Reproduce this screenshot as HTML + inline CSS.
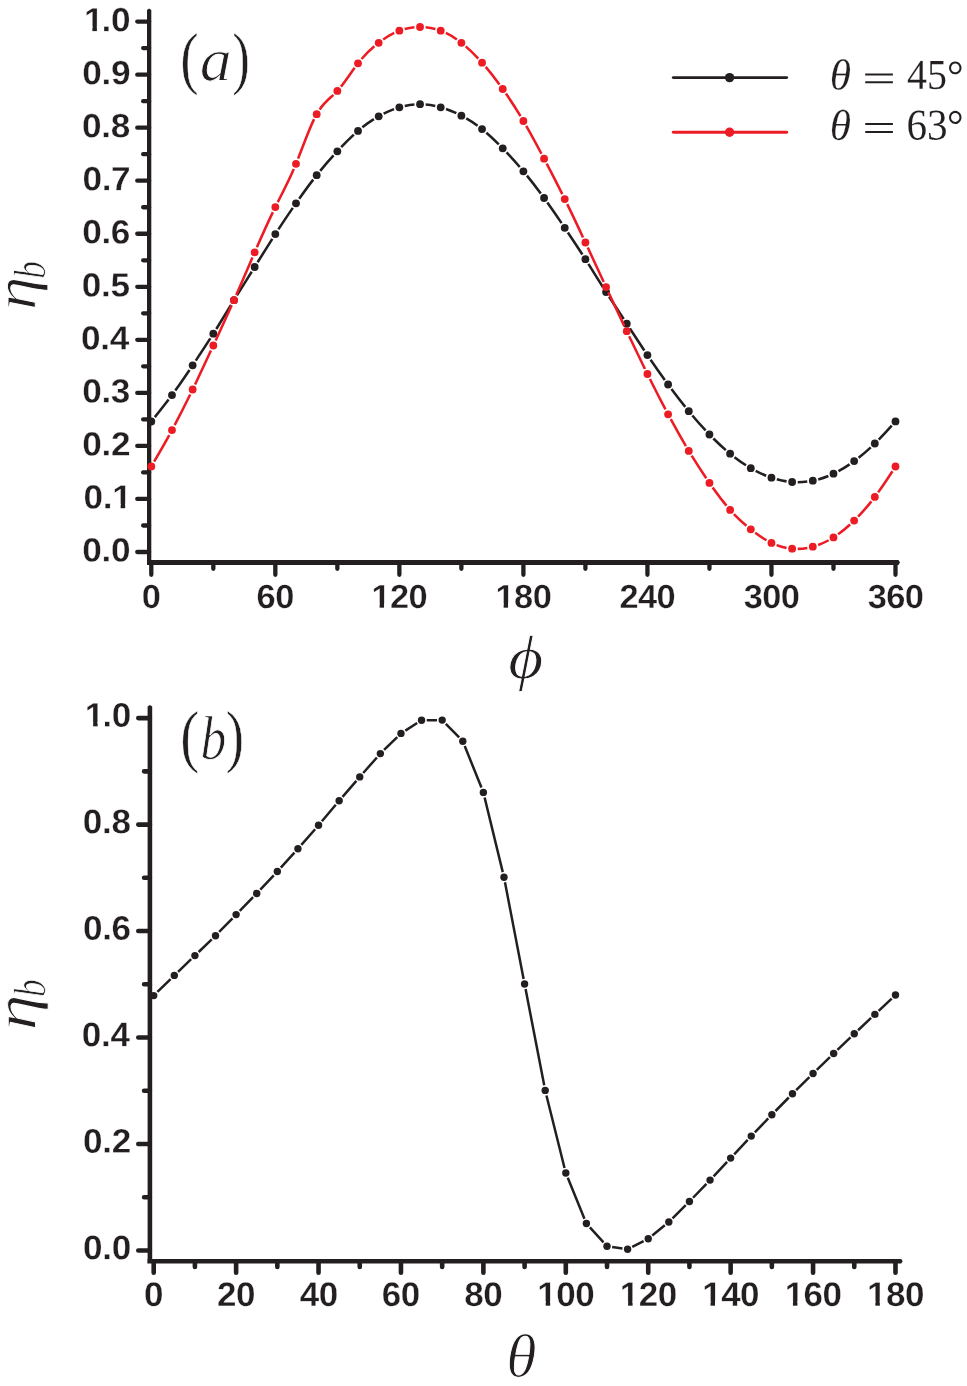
<!DOCTYPE html>
<html lang="en"><head><meta charset="utf-8"><title>Figure</title>
<style>html,body{margin:0;padding:0;background:#fff}svg{display:block}.tk{font-family:"Liberation Sans",sans-serif;font-weight:bold;stroke:#fff;stroke-width:0.3px;fill:#231f20}.mi{font-family:"Liberation Serif",serif;font-style:italic;fill:#231f20}.mr{font-family:"Liberation Serif",serif;fill:#231f20}</style></head><body>
<svg width="967" height="1386" viewBox="0 0 967 1386">
<rect width="967" height="1386" fill="#fff"/>
<g stroke="#231f20" fill="none" stroke-linecap="butt">
<path d="M147.00 565.00V9.90L149.15 8.40L151.30 9.90V562.50Z" fill="#231f20" stroke="none"/>
<path d="M147.00 560.00H898.50L900.00 562.50L898.50 565.00H147.00Z" fill="#231f20" stroke="none"/>
<path d="M151.30 562.5v12.25M213.32 562.5v6.35M275.33 562.5v12.25M337.35 562.5v6.35M399.36 562.5v12.25M461.38 562.5v6.35M523.40 562.5v12.25M585.41 562.5v6.35M647.43 562.5v12.25M709.44 562.5v6.35M771.46 562.5v12.25M833.48 562.5v6.35M895.49 562.5v12.25M149.15 552.00h-11.90M149.15 525.48h-6.00M149.15 498.96h-11.90M149.15 472.44h-6.00M149.15 445.92h-11.90M149.15 419.40h-6.00M149.15 392.88h-11.90M149.15 366.36h-6.00M149.15 339.84h-11.90M149.15 313.32h-6.00M149.15 286.80h-11.90M149.15 260.28h-6.00M149.15 233.76h-11.90M149.15 207.24h-6.00M149.15 180.72h-11.90M149.15 154.20h-6.00M149.15 127.68h-11.90M149.15 101.16h-6.00M149.15 74.64h-11.90M149.15 48.12h-6.00M149.15 21.60h-11.90" stroke-width="4.3" stroke-linecap="round"/>
</g>
<text transform="translate(141.78 608.10) rotate(0.03) scale(1.025 1)" letter-spacing="-0.5" font-size="33.5" class="tk">0</text>
<text transform="translate(256.57 608.10) rotate(0.03) scale(1.025 1)" letter-spacing="-0.5" font-size="33.5" class="tk">60</text>
<text transform="translate(371.45 608.10) rotate(0.03) scale(1.025 1)" letter-spacing="-0.5" font-size="33.5" class="tk">120</text>
<path d="M372.12 603.38H379.62v6.02H372.12ZM384.03 603.38H391.10v6.02H384.03Z" fill="#fff"/>
<text transform="translate(495.49 608.10) rotate(0.03) scale(1.025 1)" letter-spacing="-0.5" font-size="33.5" class="tk">180</text>
<path d="M496.15 603.38H503.65v6.02H496.15ZM508.06 603.38H515.13v6.02H508.06Z" fill="#fff"/>
<text transform="translate(619.40 608.10) rotate(0.03) scale(1.025 1)" letter-spacing="-0.5" font-size="33.5" class="tk">240</text>
<text transform="translate(743.64 608.10) rotate(0.03) scale(1.025 1)" letter-spacing="-0.5" font-size="33.5" class="tk">300</text>
<text transform="translate(867.67 608.10) rotate(0.03) scale(1.025 1)" letter-spacing="-0.5" font-size="33.5" class="tk">360</text>
<text transform="translate(82.32 561.60) rotate(0.03) scale(1.05 1)" letter-spacing="-0.3" font-size="33.5" class="tk">0.0</text>
<text transform="translate(83.56 508.56) rotate(0.03) scale(1.05 1)" letter-spacing="-0.3" font-size="33.5" class="tk">0.1</text>
<path d="M112.98 503.84H120.63v6.02H112.98ZM125.15 503.84H132.35v6.02H125.15Z" fill="#fff"/>
<text transform="translate(82.29 455.52) rotate(0.03) scale(1.05 1)" letter-spacing="-0.3" font-size="33.5" class="tk">0.2</text>
<text transform="translate(82.15 402.48) rotate(0.03) scale(1.05 1)" letter-spacing="-0.3" font-size="33.5" class="tk">0.3</text>
<text transform="translate(81.07 349.44) rotate(0.03) scale(1.05 1)" letter-spacing="-0.3" font-size="33.5" class="tk">0.4</text>
<text transform="translate(81.86 296.40) rotate(0.03) scale(1.05 1)" letter-spacing="-0.3" font-size="33.5" class="tk">0.5</text>
<text transform="translate(82.15 243.36) rotate(0.03) scale(1.05 1)" letter-spacing="-0.3" font-size="33.5" class="tk">0.6</text>
<text transform="translate(82.43 190.32) rotate(0.03) scale(1.05 1)" letter-spacing="-0.3" font-size="33.5" class="tk">0.7</text>
<text transform="translate(81.96 137.28) rotate(0.03) scale(1.05 1)" letter-spacing="-0.3" font-size="33.5" class="tk">0.8</text>
<text transform="translate(82.19 84.24) rotate(0.03) scale(1.05 1)" letter-spacing="-0.3" font-size="33.5" class="tk">0.9</text>
<text transform="translate(82.32 31.20) rotate(0.03) scale(1.05 1)" letter-spacing="-0.3" font-size="33.5" dx="1.62 -1.62" class="tk">1.0</text>
<path d="M84.74 26.48H92.38v6.02H84.74ZM96.91 26.48H104.11v6.02H96.91Z" fill="#fff"/>
<path d="M154.82 417.14C159.42 411.43 164.02 405.66 168.62 399.59M175.27 390.57C180.02 383.96 184.77 377.01 189.52 369.95M195.76 360.64C200.61 353.37 205.46 346.01 210.31 338.43M216.29 328.96C221.21 321.08 226.14 312.99 231.06 304.97M236.93 295.44C241.85 287.49 246.77 279.63 251.70 271.75M257.62 262.25C262.52 254.38 267.41 246.50 272.31 238.82M278.38 229.40C283.19 222.03 288.00 214.88 292.81 207.90M299.22 198.71C303.89 192.10 308.56 185.67 313.23 179.61M320.20 170.84C324.65 165.42 329.10 160.33 333.56 155.42M341.18 147.21C345.40 142.77 349.62 138.51 353.84 134.62M362.34 127.34C366.19 124.29 370.04 121.59 373.88 119.17M383.63 113.65C387.10 111.89 390.58 110.36 394.05 109.08M404.78 105.89C408.00 105.18 411.22 104.68 414.44 104.42M425.63 104.45C428.85 104.73 432.06 105.23 435.28 105.93M446.04 109.00C449.48 110.20 452.92 111.61 456.36 113.22M466.29 118.39C470.06 120.56 473.83 122.98 477.59 125.71M486.37 132.67C490.51 136.23 494.65 140.16 498.80 144.31M506.59 152.35C510.99 157.01 515.39 161.89 519.78 167.02M526.95 175.63C531.55 181.30 536.16 187.26 540.76 193.48M547.34 202.55C552.09 209.22 556.85 216.14 561.60 223.16M567.87 232.45C572.71 239.66 577.55 246.97 582.39 254.48M588.41 263.93C593.30 271.69 598.19 279.62 603.08 287.37M609.11 296.81C613.97 304.33 618.82 311.66 623.68 319.02M629.83 328.38C634.65 335.77 639.48 343.19 644.31 350.45M650.57 359.74C655.31 366.69 660.06 373.43 664.80 379.98M671.43 389.00C676.04 395.17 680.64 401.13 685.24 406.86M692.36 415.50C696.77 420.74 701.18 425.72 705.59 430.44M713.38 438.49C717.53 442.62 721.68 446.50 725.83 450.09M734.50 457.18C738.34 460.13 742.17 462.84 746.01 465.28M755.69 470.91C759.19 472.75 762.70 474.37 766.20 475.77M776.82 479.33C780.07 480.21 783.32 480.90 786.57 481.38M797.73 482.21C800.91 482.21 804.09 482.01 807.28 481.60M818.25 479.41C821.62 478.49 824.99 477.35 828.36 475.97M838.46 471.15C842.17 469.13 845.87 466.85 849.57 464.33M858.62 457.72C862.67 454.56 866.72 451.12 870.77 447.36M878.77 439.53C883.10 435.10 887.42 430.36 891.75 425.57" fill="none" stroke="#231f20" stroke-width="2.55"/>
<g fill="#231f20"><circle cx="151.30" cy="421.50" r="3.9"/><circle cx="171.97" cy="395.10" r="3.9"/><circle cx="192.64" cy="365.30" r="3.9"/><circle cx="213.32" cy="333.70" r="3.9"/><circle cx="233.99" cy="300.20" r="3.9"/><circle cx="254.66" cy="267.00" r="3.9"/><circle cx="275.33" cy="234.10" r="3.9"/><circle cx="296.00" cy="203.30" r="3.9"/><circle cx="316.68" cy="175.20" r="3.9"/><circle cx="337.35" cy="151.30" r="3.9"/><circle cx="358.02" cy="130.90" r="3.9"/><circle cx="378.69" cy="116.30" r="3.9"/><circle cx="399.36" cy="107.30" r="3.9"/><circle cx="420.04" cy="104.20" r="3.9"/><circle cx="440.71" cy="107.30" r="3.9"/><circle cx="461.38" cy="115.70" r="3.9"/><circle cx="482.05" cy="129.10" r="3.9"/><circle cx="502.72" cy="148.30" r="3.9"/><circle cx="523.40" cy="171.30" r="3.9"/><circle cx="544.07" cy="198.00" r="3.9"/><circle cx="564.74" cy="227.80" r="3.9"/><circle cx="585.41" cy="259.20" r="3.9"/><circle cx="606.08" cy="292.10" r="3.9"/><circle cx="626.76" cy="323.70" r="3.9"/><circle cx="647.43" cy="355.10" r="3.9"/><circle cx="668.10" cy="384.50" r="3.9"/><circle cx="688.77" cy="411.20" r="3.9"/><circle cx="709.44" cy="434.50" r="3.9"/><circle cx="730.12" cy="453.70" r="3.9"/><circle cx="750.79" cy="468.20" r="3.9"/><circle cx="771.46" cy="477.70" r="3.9"/><circle cx="792.13" cy="482.00" r="3.9"/><circle cx="812.80" cy="480.70" r="3.9"/><circle cx="833.48" cy="473.70" r="3.9"/><circle cx="854.15" cy="461.10" r="3.9"/><circle cx="874.82" cy="443.50" r="3.9"/><circle cx="895.49" cy="421.40" r="3.9"/></g>
<path d="M154.12 461.56C159.18 452.90 164.23 444.17 169.28 435.01M174.62 425.17C179.81 415.41 185.00 405.16 190.20 394.54M195.07 384.45C200.37 373.39 205.66 362.00 210.96 350.58M215.67 340.42C221.02 328.88 226.37 317.30 231.71 305.32M236.24 295.07C241.64 282.75 247.04 270.04 252.44 257.54M256.90 247.27C262.23 235.07 267.55 223.22 272.88 212.14M277.82 202.08C283.16 191.44 288.49 181.24 293.82 168.96M298.10 158.61C303.43 145.18 308.76 130.09 314.08 119.16M319.64 109.45C324.22 102.80 328.80 99.15 333.39 94.86M340.98 86.64C345.54 80.94 350.10 74.04 354.66 67.78M361.56 58.96C365.82 54.00 370.07 49.89 374.33 46.31M383.21 39.50C386.89 36.95 390.56 34.74 394.23 32.94M404.69 28.97C407.94 28.09 411.19 27.53 414.44 27.24M425.63 27.25C428.88 27.55 432.13 28.11 435.38 28.98M445.85 32.91C449.53 34.69 453.21 36.88 456.88 39.46M465.70 46.36C469.90 49.98 474.09 54.06 478.28 58.56M485.72 66.93C490.30 72.34 494.87 78.20 499.45 84.46M505.94 93.59C510.80 100.63 515.67 108.13 520.53 116.19M526.21 125.84C531.29 134.71 536.37 144.14 541.46 153.75M546.67 163.66C551.86 173.58 557.06 183.66 562.25 194.08M567.21 204.13C572.49 214.95 577.77 226.12 583.04 237.42M587.77 247.58C593.09 259.02 598.41 270.55 603.73 282.02M608.44 292.18C613.75 303.58 619.05 314.92 624.36 326.14M629.16 336.26C634.42 347.33 639.69 358.27 644.95 368.98M649.92 379.02C655.10 389.41 660.29 399.55 665.47 409.36M670.75 419.23C675.80 428.56 680.85 437.54 685.90 446.09M691.68 455.68C696.55 463.60 701.41 471.11 706.28 478.28M712.65 487.49C717.26 493.99 721.86 500.13 726.46 505.66M733.91 514.01C738.09 518.38 742.27 522.23 746.45 525.75M755.22 532.72C758.99 535.54 762.75 538.09 766.52 540.27M776.60 545.12C779.93 546.39 783.26 547.32 786.58 547.94M797.73 548.89C800.93 548.85 804.14 548.52 807.34 547.94M818.14 545.01C821.65 543.74 825.15 542.16 828.65 540.25M838.11 534.26C842.10 531.39 846.09 528.11 850.08 524.45M858.09 516.63C862.53 512.03 866.97 506.96 871.41 501.34M878.13 492.38C882.90 485.73 887.67 478.51 892.44 471.19" fill="none" stroke="#ed1c24" stroke-width="2.55"/>
<g fill="#ed1c24"><circle cx="151.30" cy="466.40" r="3.9"/><circle cx="171.97" cy="430.10" r="3.9"/><circle cx="192.64" cy="389.50" r="3.9"/><circle cx="213.32" cy="345.50" r="3.9"/><circle cx="233.99" cy="300.20" r="3.9"/><circle cx="254.66" cy="252.40" r="3.9"/><circle cx="275.33" cy="207.10" r="3.9"/><circle cx="296.00" cy="163.80" r="3.9"/><circle cx="316.68" cy="114.20" r="3.9"/><circle cx="337.35" cy="90.90" r="3.9"/><circle cx="358.02" cy="63.30" r="3.9"/><circle cx="378.69" cy="42.80" r="3.9"/><circle cx="399.36" cy="30.70" r="3.9"/><circle cx="420.04" cy="27.00" r="3.9"/><circle cx="440.71" cy="30.70" r="3.9"/><circle cx="461.38" cy="42.80" r="3.9"/><circle cx="482.05" cy="62.70" r="3.9"/><circle cx="502.72" cy="89.00" r="3.9"/><circle cx="523.40" cy="121.00" r="3.9"/><circle cx="544.07" cy="158.70" r="3.9"/><circle cx="564.74" cy="199.10" r="3.9"/><circle cx="585.41" cy="242.50" r="3.9"/><circle cx="606.08" cy="287.10" r="3.9"/><circle cx="626.76" cy="331.20" r="3.9"/><circle cx="647.43" cy="374.00" r="3.9"/><circle cx="668.10" cy="414.30" r="3.9"/><circle cx="688.77" cy="450.90" r="3.9"/><circle cx="709.44" cy="482.90" r="3.9"/><circle cx="730.12" cy="509.90" r="3.9"/><circle cx="750.79" cy="529.30" r="3.9"/><circle cx="771.46" cy="542.90" r="3.9"/><circle cx="792.13" cy="548.70" r="3.9"/><circle cx="812.80" cy="546.70" r="3.9"/><circle cx="833.48" cy="537.40" r="3.9"/><circle cx="854.15" cy="520.60" r="3.9"/><circle cx="874.82" cy="496.90" r="3.9"/><circle cx="895.49" cy="466.50" r="3.9"/></g>
<path d="M673.3 77.6H786.7" stroke="#231f20" stroke-width="2.9" stroke-linecap="round"/><circle cx="729.6" cy="77.6" r="4.7" fill="#231f20"/>
<path d="M673.3 132.2H786.7" stroke="#ed1c24" stroke-width="2.9" stroke-linecap="round"/><circle cx="729.6" cy="132.2" r="4.7" fill="#ed1c24"/>
<g stroke="#231f20" fill="none" stroke-linecap="butt">
<path d="M147.60 1263.45V706.50L149.90 705.00L152.20 706.50V1261.20Z" fill="#231f20" stroke="none"/>
<path d="M147.60 1258.95H901.20L902.70 1261.20L901.20 1263.45H147.60Z" fill="#231f20" stroke="none"/>
<path d="M153.70 1261.2v11.55M194.91 1261.2v5.75M236.12 1261.2v11.55M277.33 1261.2v5.75M318.54 1261.2v11.55M359.75 1261.2v5.75M400.96 1261.2v11.55M442.17 1261.2v5.75M483.38 1261.2v11.55M524.59 1261.2v5.75M565.80 1261.2v11.55M607.01 1261.2v5.75M648.22 1261.2v11.55M689.43 1261.2v5.75M730.64 1261.2v11.55M771.85 1261.2v5.75M813.06 1261.2v11.55M854.27 1261.2v5.75M895.48 1261.2v11.55M149.9 1250.50h-11.60M149.9 1197.26h-5.80M149.9 1144.02h-11.60M149.9 1090.78h-5.80M149.9 1037.54h-11.60M149.9 984.30h-5.80M149.9 931.06h-11.60M149.9 877.82h-5.80M149.9 824.58h-11.60M149.9 771.34h-5.80M149.9 718.10h-11.60" stroke-width="4.6" stroke-linecap="round"/>
</g>
<text transform="translate(144.01 1306.00) rotate(0.03) scale(1.025 1)" letter-spacing="-0.5" font-size="34.1" class="tk">0</text>
<text transform="translate(217.05 1306.00) rotate(0.03) scale(1.025 1)" letter-spacing="-0.5" font-size="34.1" class="tk">20</text>
<text transform="translate(299.81 1306.00) rotate(0.03) scale(1.025 1)" letter-spacing="-0.5" font-size="34.1" class="tk">40</text>
<text transform="translate(381.85 1306.00) rotate(0.03) scale(1.025 1)" letter-spacing="-0.5" font-size="34.1" class="tk">60</text>
<text transform="translate(464.36 1306.00) rotate(0.03) scale(1.025 1)" letter-spacing="-0.5" font-size="34.1" class="tk">80</text>
<text transform="translate(537.37 1306.00) rotate(0.03) scale(1.025 1)" letter-spacing="-0.5" font-size="34.1" class="tk">100</text>
<path d="M538.07 1301.22H545.68v6.08H538.07ZM550.17 1301.22H557.34v6.08H550.17Z" fill="#fff"/>
<text transform="translate(619.79 1306.00) rotate(0.03) scale(1.025 1)" letter-spacing="-0.5" font-size="34.1" class="tk">120</text>
<path d="M620.49 1301.22H628.10v6.08H620.49ZM632.59 1301.22H639.76v6.08H632.59Z" fill="#fff"/>
<text transform="translate(702.21 1306.00) rotate(0.03) scale(1.025 1)" letter-spacing="-0.5" font-size="34.1" class="tk">140</text>
<path d="M702.91 1301.22H710.52v6.08H702.91ZM715.01 1301.22H722.18v6.08H715.01Z" fill="#fff"/>
<text transform="translate(784.63 1306.00) rotate(0.03) scale(1.025 1)" letter-spacing="-0.5" font-size="34.1" class="tk">160</text>
<path d="M785.33 1301.22H792.94v6.08H785.33ZM797.43 1301.22H804.60v6.08H797.43Z" fill="#fff"/>
<text transform="translate(867.05 1306.00) rotate(0.03) scale(1.025 1)" letter-spacing="-0.5" font-size="34.1" class="tk">180</text>
<path d="M867.75 1301.22H875.36v6.08H867.75ZM879.85 1301.22H887.02v6.08H879.85Z" fill="#fff"/>
<text transform="translate(83.08 1259.20) rotate(0.03) scale(1.03 1)" letter-spacing="-0.3" font-size="34.1" class="tk">0.0</text>
<text transform="translate(83.05 1152.72) rotate(0.03) scale(1.03 1)" letter-spacing="-0.3" font-size="34.1" class="tk">0.2</text>
<text transform="translate(81.83 1046.24) rotate(0.03) scale(1.03 1)" letter-spacing="-0.3" font-size="34.1" class="tk">0.4</text>
<text transform="translate(82.91 939.76) rotate(0.03) scale(1.03 1)" letter-spacing="-0.3" font-size="34.1" class="tk">0.6</text>
<text transform="translate(82.72 833.28) rotate(0.03) scale(1.03 1)" letter-spacing="-0.3" font-size="34.1" class="tk">0.8</text>
<text transform="translate(83.08 726.80) rotate(0.03) scale(1.03 1)" letter-spacing="-0.3" font-size="34.1" dx="1.65 -1.65" class="tk">1.0</text>
<path d="M85.50 722.02H93.13v6.08H85.50ZM97.65 722.02H104.84v6.08H97.65Z" fill="#fff"/>
<path d="M157.41 991.96L170.59 979.04M178.05 971.80L191.16 959.20M198.65 951.99L211.77 939.31M219.15 931.98L232.49 918.32M239.75 910.88L253.09 897.22M260.28 889.70L273.78 875.30M280.82 867.65L294.44 852.65M301.36 844.89L315.11 829.21M321.89 821.32L335.80 804.78M342.54 796.86L356.35 780.84M363.19 773.00L376.91 757.50M384.07 749.96L397.25 737.04M405.34 730.59L417.19 723.01M426.76 720.17L436.97 720.13M445.80 723.82L459.14 737.48M464.72 746.02L481.44 787.58M484.61 797.45L502.76 872.15M504.97 882.31L523.60 978.89M525.58 989.11L544.21 1085.29M546.45 1095.45L564.54 1167.95M567.76 1177.81L584.44 1218.69M589.90 1227.35L603.52 1242.35M612.15 1246.97L622.47 1248.53M632.24 1246.92L643.60 1241.08M652.26 1235.43L664.79 1225.27M672.51 1218.33L685.74 1205.17M693.04 1197.75L706.43 1183.85M713.59 1176.30L727.09 1161.90M734.19 1154.30L747.69 1139.90M754.85 1132.35L768.24 1118.45M775.50 1111.00L788.80 1097.50M796.16 1090.15L809.36 1077.15M816.79 1069.88L829.93 1057.12M837.42 1049.91L850.51 1037.39M858.06 1030.24L871.09 1017.96M878.66 1010.84L891.69 998.56" fill="none" stroke="#231f20" stroke-width="2.5"/>
<g fill="#231f20"><circle cx="153.70" cy="995.60" r="3.7"/><circle cx="174.31" cy="975.40" r="3.7"/><circle cx="194.91" cy="955.60" r="3.7"/><circle cx="215.51" cy="935.70" r="3.7"/><circle cx="236.12" cy="914.60" r="3.7"/><circle cx="256.73" cy="893.50" r="3.7"/><circle cx="277.33" cy="871.50" r="3.7"/><circle cx="297.94" cy="848.80" r="3.7"/><circle cx="318.54" cy="825.30" r="3.7"/><circle cx="339.14" cy="800.80" r="3.7"/><circle cx="359.75" cy="776.90" r="3.7"/><circle cx="380.36" cy="753.60" r="3.7"/><circle cx="400.96" cy="733.40" r="3.7"/><circle cx="421.56" cy="720.20" r="3.7"/><circle cx="442.17" cy="720.10" r="3.7"/><circle cx="462.78" cy="741.20" r="3.7"/><circle cx="483.38" cy="792.40" r="3.7"/><circle cx="503.99" cy="877.20" r="3.7"/><circle cx="524.59" cy="984.00" r="3.7"/><circle cx="545.20" cy="1090.40" r="3.7"/><circle cx="565.80" cy="1173.00" r="3.7"/><circle cx="586.40" cy="1223.50" r="3.7"/><circle cx="607.01" cy="1246.20" r="3.7"/><circle cx="627.62" cy="1249.30" r="3.7"/><circle cx="648.22" cy="1238.70" r="3.7"/><circle cx="668.83" cy="1222.00" r="3.7"/><circle cx="689.43" cy="1201.50" r="3.7"/><circle cx="710.04" cy="1180.10" r="3.7"/><circle cx="730.64" cy="1158.10" r="3.7"/><circle cx="751.25" cy="1136.10" r="3.7"/><circle cx="771.85" cy="1114.70" r="3.7"/><circle cx="792.46" cy="1093.80" r="3.7"/><circle cx="813.06" cy="1073.50" r="3.7"/><circle cx="833.66" cy="1053.50" r="3.7"/><circle cx="854.27" cy="1033.80" r="3.7"/><circle cx="874.88" cy="1014.40" r="3.7"/><circle cx="895.48" cy="995.00" r="3.7"/></g>
<text transform="translate(180.27 80.71) rotate(0.03) scale(0.7957 1)" font-size="69.48" class="mr" stroke="#fff" stroke-width="0.60">(</text>
<text transform="translate(199.85 80.43) rotate(0.03) scale(1.0472 1)" font-size="60.92" class="mi" stroke="#fff" stroke-width="0.90">a</text>
<text transform="translate(232.19 80.71) rotate(0.03) scale(0.7621 1)" font-size="69.48" class="mr" stroke="#fff" stroke-width="0.60">)</text>
<text transform="translate(180.20 759.41) rotate(0.03) scale(0.8182 1)" font-size="69.48" class="mr" stroke="#fff" stroke-width="0.60">(</text>
<text transform="translate(200.44 758.64) rotate(0.03) scale(0.8300 1)" font-size="62.11" class="mi" stroke="#fff" stroke-width="0.90">b</text>
<text transform="translate(225.63 759.41) rotate(0.03) scale(0.7901 1)" font-size="69.48" class="mr" stroke="#fff" stroke-width="0.60">)</text>
<text transform="translate(35.30 309.95) rotate(-89.97) scale(1.1350 1)" font-size="59.31" class="mi" stroke="#fff" stroke-width="0.90">η</text>
<text transform="translate(44.71 278.75) rotate(-89.97) scale(0.7750 1)" font-size="45.34" class="mi" stroke="#fff" stroke-width="0.90">b</text>
<text transform="translate(35.60 1030.32) rotate(-89.97) scale(1.2155 1)" font-size="59.31" class="mi" stroke="#fff" stroke-width="0.90">η</text>
<text transform="translate(45.01 996.95) rotate(-89.97) scale(0.7750 1)" font-size="45.34" class="mi" stroke="#fff" stroke-width="0.90">b</text>
<text transform="translate(508.30 678.35) rotate(0.03) scale(1.1001 1)" font-size="61.54" class="mi" stroke="#fff" stroke-width="0.90">ϕ</text>
<text transform="translate(506.14 1376.75) rotate(0.03) scale(0.9991 1)" font-size="61.64" class="mi" stroke="#fff" stroke-width="0.90">θ</text>
<text transform="translate(829.68 89.47) rotate(0.03) scale(0.9968 1)" font-size="43.58" class="mi" stroke="#fff" stroke-width="0.20">θ</text>
<text transform="translate(862.34 91.50) rotate(0.03) scale(1.5032 1)" font-size="39.60" class="mr">=</text>
<text transform="translate(907.07 88.74) rotate(0.03) scale(0.9427 1)" font-size="42.37" class="mr" stroke="#fff" stroke-width="0.10">45</text>
<text transform="translate(946.93 89.69) rotate(0.03) scale(0.9690 1)" font-size="42.54" class="mr">°</text>
<text transform="translate(829.68 139.68) rotate(0.03) scale(1.0065 1)" font-size="43.16" class="mi" stroke="#fff" stroke-width="0.20">θ</text>
<text transform="translate(862.34 141.18) rotate(0.03) scale(1.4882 1)" font-size="40.00" class="mr">=</text>
<text transform="translate(906.38 139.52) rotate(0.03) scale(0.9378 1)" font-size="43.91" class="mr" stroke="#fff" stroke-width="0.10">63</text>
<text transform="translate(946.93 139.75) rotate(0.03) scale(0.9470 1)" font-size="43.53" class="mr">°</text>
</svg></body></html>
